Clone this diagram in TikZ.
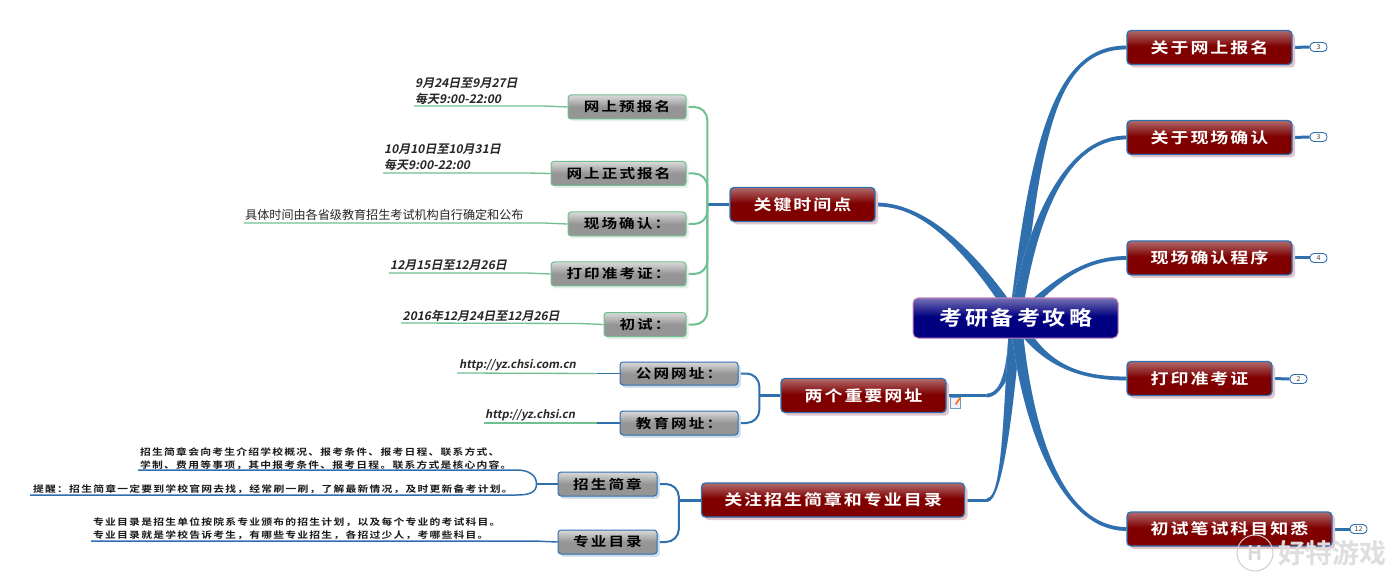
\documentclass[tikz,border=0pt]{standalone}
\usepackage{fontspec}
\usetikzlibrary{calc,shadows,backgrounds}
\setmainfont{Noto Sans CJK SC}[BoldFont={Noto Sans CJK SC Bold}]
\newfontfamily\wideA[FakeStretch=1.2,LetterSpace=13,BoldFont={Noto Sans CJK SC Bold},BoldFeatures={FakeStretch=1.2,LetterSpace=13}]{Noto Sans CJK SC}
\newfontfamily\wideB[FakeStretch=1.2,LetterSpace=16,BoldFont={Noto Sans CJK SC Bold},BoldFeatures={FakeStretch=1.2,LetterSpace=16}]{Noto Sans CJK SC}
\newfontfamily\wideC[FakeStretch=1.15,LetterSpace=15,BoldFont={Noto Sans CJK SC Bold},BoldFeatures={FakeStretch=1.15,LetterSpace=15}]{Noto Sans CJK SC}
\newfontfamily\wideD[FakeStretch=1.2,LetterSpace=13.5,BoldFont={Noto Sans CJK SC Bold},BoldFeatures={FakeStretch=1.2,LetterSpace=13.5}]{Noto Sans CJK SC}
\newfontfamily\slantf[FakeSlant=0.2,BoldFont={Noto Sans CJK SC Bold},BoldFeatures={FakeSlant=0.2}]{Noto Sans CJK SC}
\definecolor{lnblue}{HTML}{2F6FAE}
\definecolor{lngreen}{HTML}{6FBF8F}
\definecolor{shblue}{HTML}{CCDBEE}
\definecolor{shred}{HTML}{E2C6CC}
\definecolor{shgreen}{HTML}{E6F0EA}
\definecolor{rd}{HTML}{800000}
\definecolor{rdtop}{HTML}{B06A6C}
\definecolor{nv}{HTML}{000080}
\definecolor{nvtop}{HTML}{7470B4}
\definecolor{gy}{HTML}{959595}
\definecolor{gytop}{HTML}{DADADA}
\pgfdeclareverticalshading{redbar}{100bp}{color(0bp)=(rd); color(52bp)=(rd); color(75bp)=(rdtop); color(100bp)=(rdtop)}
\pgfdeclareverticalshading{navybar}{100bp}{color(0bp)=(nv); color(52bp)=(nv); color(75bp)=(nvtop); color(100bp)=(nvtop)}
\pgfdeclareverticalshading{graybar}{100bp}{color(0bp)=(gy); color(50bp)=(gy); color(75bp)=(gytop); color(100bp)=(gytop)}
\tikzset{
  rednode/.style={shading=redbar,rounded corners=4,draw=lnblue,line width=1.3,text=white,inner sep=0,
    general shadow={shadow xshift=3,shadow yshift=3,fill=shred},
    font=\wideA\bfseries\fontsize{15}{15}\selectfont},
  rootnode/.style={shading=navybar,rounded corners=5,draw=violet!50!white,line width=1,text=white,inner sep=0,
    font=\wideC\bfseries\fontsize{20}{20}\selectfont},
  graynode/.style={shading=graybar,rounded corners=3,draw=lngreen,line width=1,text=black,inner sep=0,
    general shadow={shadow xshift=2.5,shadow yshift=2.5,fill=shgreen},
    font=\wideB\bfseries\fontsize{13}{13}\selectfont},
  graynodeb/.style={graynode,draw=lnblue,general shadow={shadow xshift=2.5,shadow yshift=2.5,fill=shblue}},
  badge/.style={draw=lnblue,fill=white,rounded corners=4,line width=.9,minimum width=17,minimum height=9,inner sep=0,
    text=black!75,font=\fontsize{7}{7}\selectfont},
  slanttext/.style={anchor=west,inner sep=0,align=left,text=black!85,font=\slantf\bfseries\fontsize{12}{16}\selectfont},
  urltext/.style={slanttext,font=\slantf\bfseries\fontsize{11.2}{16}\selectfont},
  plaintext/.style={anchor=west,inner sep=0,text=black!85,font=\fontsize{12.1}{14}\selectfont},
  smalltext/.style={anchor=west,inner sep=0,align=left,text=black!90,font=\wideD\bfseries\fontsize{9}{13}\selectfont},
  grn/.style={draw=lngreen,line width=1.3},
  blu/.style={draw=lnblue,line width=1.5},
  bus/.style={line width=2,rounded corners=13,line join=round},
}
\newcommand{\taperpath}[5]{
  ($(#2)+(-6,0)$) .. controls ($(#3)+(-5,0)$) and ($(#4)+(0,-#1*1.9)$) .. ($(#5)+(0,-#1*1.9)$)
  -- ($(#5)+(0,#1*1.9)$) .. controls ($(#4)+(0,#1*1.9)$) and ($(#3)+(5,0)$) .. ($(#2)+(6,0)$) -- cycle}
\newcommand{\branch}[5]{
  \fill[shblue,shift={(2.5,2.5)}] \taperpath{#1}{#2}{#3}{#4}{#5};
  \fill[lnblue] \taperpath{#1}{#2}{#3}{#4}{#5};}
\begin{document}
\begin{tikzpicture}[x=1pt,y=-1pt]
\useasboundingbox (0,0) rectangle (1397,585);
% root and right topics
\node[rootnode,minimum width=205,minimum height=40] (root) at (1015.5,318) {考研备考攻略};
\node[rednode,minimum width=165,minimum height=34] (t1) at (1209.5,47.5) {关于网上报名};
\node[rednode,minimum width=165,minimum height=34] (t2) at (1209.5,137.5) {关于现场确认};
\node[rednode,minimum width=165,minimum height=34] (t3) at (1209.5,258) {现场确认程序};
\node[rednode,minimum width=145,minimum height=34] (t4) at (1199.5,378.5) {打印准考证};
\node[rednode,minimum width=205,minimum height=34] (t5) at (1229.5,529) {初试笔试科目知悉};
% left topics
\node[rednode,minimum width=145,minimum height=34] (l1) at (802.5,204.5) {关键时间点};
\node[rednode,minimum width=165,minimum height=34] (l2) at (863.5,395.5) {两个重要网址};
\node[rednode,minimum width=263,minimum height=34] (l3) at (833,500) {关注招生简章和专业目录};
% badges
\node[badge] (b1) at (1318.5,47) {3};
\node[badge] (b2) at (1318.5,137) {3};
\node[badge] (b3) at (1318.5,258) {4};
\node[badge] (b4) at (1298.5,379) {2};
\node[badge] (b5) at (1358.5,529) {12};
% gray subtopics
\node[graynode,minimum width=118,minimum height=24] (g1) at (627,107) {网上预报名};
\node[graynode,minimum width=135,minimum height=24] (g2) at (618.5,173.5) {网上正式报名};
\node[graynode,minimum width=118,minimum height=24] (g3) at (627,224) {现场确认：};
\node[graynode,minimum width=135,minimum height=24] (g4) at (618.5,274) {打印准考证：};
\node[graynode,minimum width=82,minimum height=24] (g5) at (645,324.5) {初试：};
\node[graynodeb,minimum width=118,minimum height=23] (g6) at (679,373.5) {公网网址：};
\node[graynodeb,minimum width=118,minimum height=24] (g7) at (679,423) {教育网址：};
\node[graynodeb,minimum width=99,minimum height=24] (g8) at (607.5,484) {招生简章};
\node[graynodeb,minimum width=99,minimum height=24] (g9) at (607.5,542) {专业目录};
% leaf texts
\node[slanttext] (x1) at (415,91) {9月24日至9月27日\\每天9:00-22:00};
\node[slanttext] (x2) at (384,157) {10月10日至10月31日\\每天9:00-22:00};
\node[plaintext] (x3) at (245,214.5) {具体时间由各省级教育招生考试机构自行确定和公布};
\node[slanttext] (x4) at (390,265.5) {12月15日至12月26日};
\node[slanttext] (x5) at (402.5,315.5) {2016年12月24日至12月26日};
\node[urltext] (x6) at (459,365.5) {http://yz.chsi.com.cn};
\node[urltext] (x7) at (485,415.5) {http://yz.chsi.cn};
\node[smalltext] (x8) at (140,458.5) {招生简章会向考生介绍学校概况、报考条件、报考日程、联系方式、\\学制、费用等事项，其中报考条件、报考日程。联系方式是核心内容。};
\node[smalltext] (x9) at (33,489) {提醒：招生简章一定要到学校官网去找，经常刷一刷，了解最新情况，及时更新备考计划。};
\node[smalltext] (x10) at (93,529) {专业目录是招生单位按院系专业颁布的招生计划，以及每个专业的考试科目。\\专业目录就是学校告诉考生，有哪些专业招生，各招过少人，考哪些科目。};
% note icon
\node[draw=lnblue!70,fill=blue!6,minimum width=10,minimum height=11,inner sep=0,line width=.6] (note) at (955.5,402.5) {};
\draw[orange!85!red,line width=1.6] ($(note.center)+(0,2)$) -- ($(note.center)+(5,-5)$);
% watermark
\node[draw=black!20,circle,line width=1,minimum size=36,inner sep=0,text=black!15,font=\bfseries\fontsize{20}{20}\selectfont] (wm) at (1255,553) {H};
\node[anchor=west,inner sep=0,text=black!13,font=\bfseries\fontsize{27}{27}\selectfont] (wt) at (1278,553) {好特游戏};
\begin{scope}[on background layer]
\fill[white] (0,0) rectangle (1397,585);
\coordinate (r) at (root.center);
% main branches
\coordinate (e6) at ($(l2.east)+(40,0)$);
\coordinate (e7) at ($(l3.east)+(22,0)$);
\draw[lnblue,line width=3] (l2.east) -- (e6);
\draw[lnblue,line width=3] (l3.east) -- (e7);
\branch{1}{r}{$(e6)+(26,-30)$}{$(e6)+(16,0)$}{e6}
\branch{1}{r}{$(e7)+(21,-85)$}{$(e7)+(15,0)$}{e7}
\branch{1}{r}{$(t1.west)+(-90,85)$}{$(t1.west)+(-70,0)$}{t1.west}
\branch{1}{r}{$(t2.west)+(-97,95)$}{$(t2.west)+(-65,0)$}{t2.west}
\branch{1}{r}{$(t3.west)+(-85,40)$}{$(t3.west)+(-55,0)$}{t3.west}
\branch{-1}{r}{$(t4.west)+(-85,-15)$}{$(t4.west)+(-50,0)$}{t4.west}
\branch{-1}{r}{$(t5.west)+(-100,-100)$}{$(t5.west)+(-65,0)$}{t5.west}
\draw[lnblue,line width=3] (t1.east) -- (b1.west);
\draw[lnblue,line width=3] (t2.east) -- (b2.west);
\draw[lnblue,line width=3] (t3.east) -- (b3.west);
\draw[lnblue,line width=3] (t4.east) -- (b4.west);
\draw[lnblue,line width=3] (t5.east) -- (b5.west);
\draw[lnblue,line width=3] (l1.west) -- ++(-22,0) coordinate (busa);
\draw[lnblue,line width=3] (l2.west) -- ++(-21,0) coordinate (busb);
\draw[lnblue,line width=3] (l3.west) -- ++(-22,0) coordinate (busc);
% left upper big curve
\fill[shblue,shift={(0,2.5)}] \taperpath{-1}{r}{$(l1.east)+(75,15)$}{$(l1.east)+(30,0)$}{l1.east};
\fill[lnblue] \taperpath{-1}{r}{$(l1.east)+(75,15)$}{$(l1.east)+(30,0)$}{l1.east};
% buses
\draw[lngreen,bus] (g1.east) -| (busa);
\draw[lngreen,bus] (g2.east) -| (busa);
\draw[lngreen,bus] (g3.east) -| (busa);
\draw[lngreen,bus] (g4.east) -| (busa);
\draw[lngreen,bus] (g5.east) -| (busa);
\draw[lnblue,bus] (g6.east) -| (busb);
\draw[lnblue,bus] (g7.east) -| (busb);
\draw[lnblue,bus] (g8.east) -| (busc);
\draw[lnblue,bus] (g9.east) -| (busc);
% leaf connectors
\coordinate (f1) at (414,106);
\coordinate (f2) at (383,173);
\coordinate (f3) at (244,223);
\coordinate (f4) at (389,273);
\coordinate (f5) at (401,323);
\coordinate (f6) at (457,373);
\coordinate (f7) at (484,423);
\coordinate (f8) at (138,470);
\coordinate (f9) at (30,495);
\coordinate (f10) at (91,541);
\draw[grn] (g1.west) -- ++(-24,-1) -- (f1);
\draw[grn] (g2.west) -- ++(-24,-.5) -- (f2);
\draw[grn] (g3.west) -- ++(-24,-1) -- (f3);
\draw[grn] (g4.west) -- ++(-24,-1) -- (f4);
\draw[grn] (g5.west) -- ++(-24,-1) -- (f5);
\draw[grn] (f6) -- ($(g6.west)+(-23,0)$);
\draw[blu] ($(g6.west)+(-23,0)$) -- (g6.west);
\draw[grn] (f7) -- ($(g7.west)+(-23,0)$);
\draw[blu] ($(g7.west)+(-23,0)$) -- (g7.west);
\draw[blu] (g8.west) -- ++(-21,0) coordinate (fk);
\draw[blu] (fk) .. controls ($(fk)+(0,-9)$) and ($(fk)+(-8,-14)$) .. ($(fk)+(-20,-14)$) -- (f8);
\draw[blu] (fk) .. controls ($(fk)+(0,9)$) and ($(fk)+(-8,11)$) .. ($(fk)+(-20,11)$) -- (f9);
\draw[blu] (g9.west) -- ++(-24,-1) -- (f10);
\end{scope}
\end{tikzpicture}
\end{document}
